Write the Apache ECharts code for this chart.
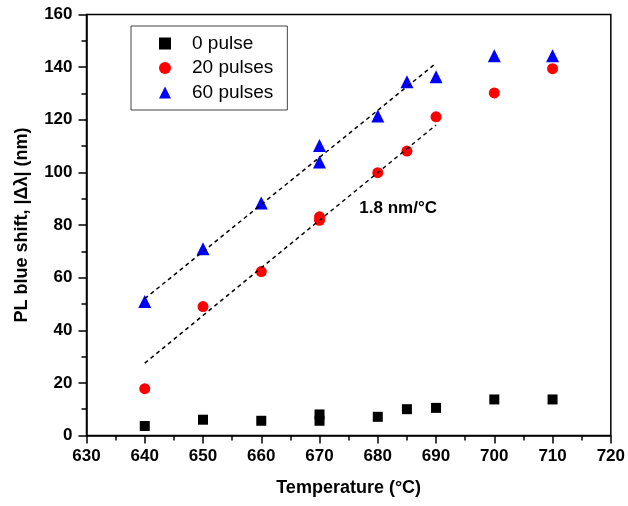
<!DOCTYPE html>
<html>
<head>
<meta charset="utf-8">
<script src="https://cdn.jsdelivr.net/npm/echarts@6/dist/echarts.min.js"></script>
<style>html,body{margin:0;padding:0;background:#fff;}#chart{width:628px;height:506px;}</style>
</head>
<body>
<div id="chart"></div>
<script>
// Data
const pulse0 = [[640,3.6],[650,6.0],[660,5.6],[670,8.0],[670,5.6],[680,7.1],[685,10.0],[690,10.5],[700,13.7],[710,13.7]];
const pulse20 = [[640,17.8],[650,49.0],[660,62.3],[670,83.1],[670,81.8],[680,99.9],[685,108.1],[690,121.1],[700,130.2],[710,139.4]];
const pulse60 = [[640,50.9],[650,71.0],[660,88.4],[670,110.2],[670,103.9],[680,121.4],[685,134.4],[690,136.3],[700,144.3],[710,144.3]];
const fit60 = [[640,52.0],[690,141.5]];
const fit20 = [[640,27.5],[690,118.0]];
const slopeLabel = [[683.5,86.5]];
const slopeText = '1.8 nm/°C';
const seriesNames = ['0 pulse','20 pulses','60 pulses'];
const xTitle = 'Temperature (°C)';
const yTitle = 'PL blue shift, |Δλ| (nm)';

const FONT = '"Liberation Sans", Arial, sans-serif';
const chart = echarts.init(document.getElementById('chart'), null, {renderer:'canvas'});
const axisCommon = {
  axisLine:{show:true,onZero:false,lineStyle:{color:'#000',width:1.5}},
  axisTick:{show:true,inside:false,length:8,lineStyle:{color:'#000',width:1.5}},
  minorTick:{show:true,splitNumber:2,length:5,lineStyle:{color:'#000',width:1.5}},
  splitLine:{show:false},
  axisLabel:{color:'#000',fontFamily:FONT,fontWeight:'bold',fontSize:17},
  nameTextStyle:{color:'#000',fontFamily:FONT,fontWeight:'bold',fontSize:18}
};
chart.setOption({
  animation:false,
  backgroundColor:'#fff',
  grid:{left:86.5,right:16,top:14.5,bottom:70.5,show:true,borderColor:'#000',borderWidth:1.5,backgroundColor:'transparent'},
  xAxis:Object.assign({}, axisCommon, {
    type:'value',min:630,max:720,interval:10,
    name:xTitle,nameLocation:'middle',nameGap:44,
    axisLabel:Object.assign({}, axisCommon.axisLabel, {margin:12})
  }),
  yAxis:Object.assign({}, axisCommon, {
    type:'value',min:0,max:160,interval:20,
    name:yTitle,nameLocation:'middle',nameGap:55,
    axisLabel:Object.assign({}, axisCommon.axisLabel, {margin:14})
  }),
  legend:{
    show:true,orient:'vertical',left:131,top:26,
    data:seriesNames,
    borderColor:'#444',borderWidth:1,
    padding:[8,14,8,28],
    itemWidth:12,itemHeight:12,itemGap:5.5,
    textStyle:{color:'#000',fontFamily:FONT,fontSize:19,padding:[0,0,0,16]}
  },
  series:[
    {name:seriesNames[0],type:'scatter',data:pulse0,symbol:'rect',symbolSize:10,itemStyle:{color:'#000',opacity:1},z:5},
    {name:seriesNames[1],type:'scatter',data:pulse20,symbol:'circle',symbolSize:11,itemStyle:{color:'#ff0000',opacity:1},z:5},
    {name:seriesNames[2],type:'scatter',data:pulse60,symbol:'triangle',symbolSize:13,itemStyle:{color:'#0000ff',opacity:1},z:5},
    {type:'line',data:fit60,showSymbol:false,symbol:'none',lineStyle:{color:'#000',width:1.5,type:[4,3.5]},z:6,silent:true},
    {type:'line',data:fit20,showSymbol:false,symbol:'none',lineStyle:{color:'#000',width:1.5,type:[4,3.5]},z:6,silent:true},
    {type:'scatter',data:slopeLabel,symbolSize:0,itemStyle:{color:'#000',opacity:1},silent:true,z:7,
     label:{show:true,position:'inside',formatter:slopeText,color:'#000',opacity:1,textBorderWidth:0,fontFamily:FONT,fontWeight:'bold',fontSize:17}}
  ]
});
</script>
</body>
</html>
